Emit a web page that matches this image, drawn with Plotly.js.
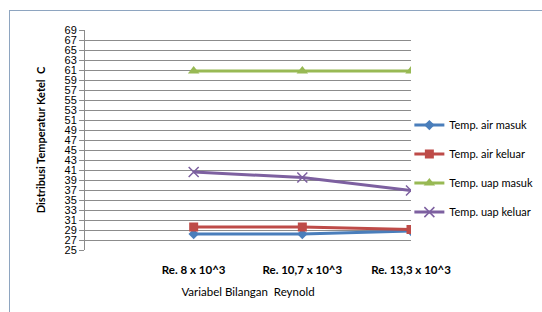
<!DOCTYPE html>
<html><head><meta charset="utf-8">
<script src="https://cdn.plot.ly/plotly-3.0.1.min.js"></script>
<style>
body{margin:0;padding:0;background:#fff;}
#wrap{position:relative;width:542px;height:312px;}
#chart{position:absolute;left:0;top:0;width:542px;height:312px;}
#frame{position:absolute;left:9px;top:10px;width:540px;height:310px;border:1px solid #8ea5c0;box-sizing:border-box;pointer-events:none;}
</style></head>
<body><div id="wrap"><div id="chart"></div><div id="frame"></div></div>
<script>
const categories = ["Re. 8 x 10^3", "Re. 10,7 x 10^3", "Re. 13,3 x 10^3"];
const airMasuk = [28.2, 28.2, 28.8];
const airKeluar = [29.6, 29.6, 29.1];
const uapMasuk = [60.8, 60.8, 60.8];
const uapKeluar = [40.6, 39.5, 36.9];
const seriesNames = ["Temp. air masuk", "Temp. air keluar", "Temp. uap masuk", "Temp. uap keluar"];
const yTicks = [25,27,29,31,33,35,37,39,41,43,45,47,49,51,53,55,57,59,61,63,65,67,69];

const xIdx = categories.map((c,i)=>i);
const styles = [
  {color:'#4a7ebb', symbol:'diamond', size:8},
  {color:'#be4b48', symbol:'square', size:9},
  {color:'#98b954', symbol:'triangle-up', size:10},
  {color:'#7d60a0', symbol:'x-thin-open', size:10}
];
const data = [airMasuk, airKeluar, uapMasuk, uapKeluar].map((ys,k)=>({
  x: xIdx, y: ys, name: seriesNames[k], type:'scatter', mode:'lines+markers',
  legendgroup: 'g'+k,
  line:{color:styles[k].color, width:3},
  marker:{color:styles[k].color, symbol:styles[k].symbol, size:styles[k].size,
          line:{color:styles[k].color, width: k===3?1.5:0}}
}));

const layout = {
  width:542, height:312,
  margin:{l:85, r:131, t:30, b:62, autoexpand:false},
  paper_bgcolor:'rgba(0,0,0,0)', plot_bgcolor:'#fff',
  font:{family:'Lato, "Open Sans", sans-serif', color:'#000'},
  showlegend:true,
  legend:{x:0.995, y:0.37, xanchor:'left', yanchor:'middle', tracegroupgap:10,
          font:{size:11, family:'Lato, sans-serif'}, itemwidth:30, bgcolor:'rgba(0,0,0,0)'},
  xaxis:{
    range:[-1, 2], tickmode:'array', tickvals:xIdx, ticktext:categories,
    showgrid:false, zeroline:false, showline:false, ticks:'outside', ticklen:9, tickcolor:'rgba(0,0,0,0)',
    tickfont:{size:11.5, family:'Lato, sans-serif', weight:'bold'},
    title:{text:'Variabel Bilangan  Reynold', font:{size:11.5}, standoff:13},
    automargin:false, fixedrange:true
  },
  yaxis:{
    range:[25,69], tickmode:'array', tickvals:yTicks, ticktext:yTicks.map(String),
    showgrid:true, gridcolor:'#8c8c8c', gridwidth:1, zeroline:false,
    showline:true, linecolor:'#8c8c8c', ticks:'outside', ticklen:5, tickcolor:'#8c8c8c',
    tickfont:{size:11, family:'"Liberation Sans", "Noto Sans", sans-serif'},
    title:{text:'Distribusi Temperatur Ketel  C', font:{size:11, weight:'bold'}, standoff:16},
    automargin:false, fixedrange:true
  }
};
Plotly.newPlot('chart', data, layout, {displayModeBar:false, staticPlot:true});
</script></body></html>
